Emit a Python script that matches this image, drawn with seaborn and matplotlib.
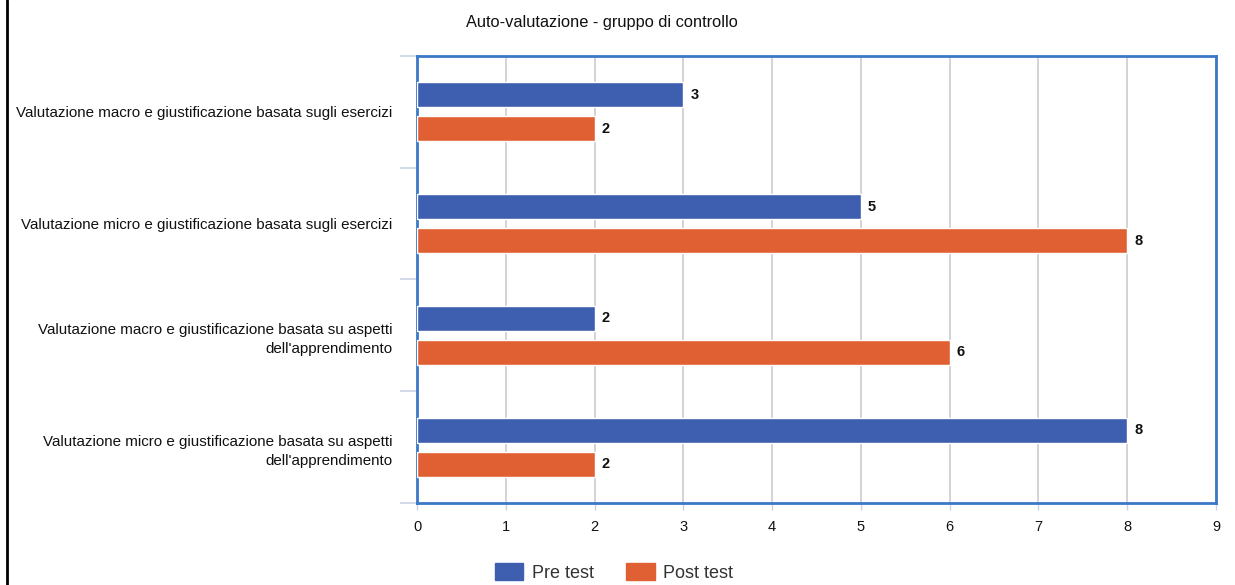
import matplotlib
matplotlib.use("Agg")
import matplotlib.pyplot as plt
from matplotlib.lines import Line2D
from matplotlib.patches import Patch
import seaborn as sns
import pandas as pd

categories = [
    "Valutazione macro e giustificazione basata sugli esercizi",
    "Valutazione micro e giustificazione basata sugli esercizi",
    "Valutazione macro e giustificazione basata su aspetti\ndell'apprendimento",
    "Valutazione micro e giustificazione basata su aspetti\ndell'apprendimento",
]
pre_test = [3, 5, 2, 8]
post_test = [2, 8, 6, 2]
series_names = ["Pre test", "Post test"]
colors = ["#3e5eb0", "#e06033"]
title = "Auto-valutazione - gruppo di controllo"

df = pd.DataFrame({
    "categoria": categories * 2,
    "valore": pre_test + post_test,
    "serie": [series_names[0]] * len(categories) + [series_names[1]] * len(categories),
})

sns.set_style("white")
plt.rcParams["font.family"] = ["Liberation Sans", "DejaVu Sans"]

fig = plt.figure(figsize=(12.35, 5.85), dpi=100)
ax = fig.add_axes([0.3377, 0.1402, 0.6469, 0.7641])

sns.barplot(data=df, y="categoria", x="valore", hue="serie", orient="h",
            palette=colors, width=0.61, gap=0.27, ax=ax, legend=False,
            saturation=1, zorder=3)

# value labels to the right of each bar
for cont in ax.containers:
    ax.bar_label(cont, padding=5, fontsize=10.5, fontweight="bold", color="#111111")

ax.set_xlim(0, 9)
ax.set_ylim(3.5, -0.5)
ax.set_xticks(range(0, 10))
ax.set_xlabel("")
ax.set_ylabel("")
ax.grid(axis="x", color="#cccccc", linewidth=1.2, zorder=0)
ax.set_axisbelow(True)

for sp in ax.spines.values():
    sp.set_visible(True)
    sp.set_color("#3b78c6")
    sp.set_linewidth(2)

ax.tick_params(axis="y", which="major", left=False, length=0, pad=18,
               labelsize=10.9, labelcolor="#111111")
ax.set_yticks([-0.5, 0.5, 1.5, 2.5, 3.5], minor=True)
ax.tick_params(axis="y", which="minor", left=True, length=12, width=1.2, color="#c9d3e6")
ax.tick_params(axis="x", which="major", length=5, width=1, color="#c9d3e6",
               pad=7, labelsize=10.5, labelcolor="#111111", bottom=True)
for lbl in ax.get_yticklabels():
    lbl.set_horizontalalignment("right")
    lbl.set_multialignment("right")
    lbl.set_linespacing(1.45)

fig.text(0.4875, 0.962, title, ha="center", va="center", fontsize=11.8, color="#111111")

handles = [Patch(facecolor=c, edgecolor=c) for c in colors]
fig.legend(handles, series_names, loc="center", bbox_to_anchor=(0.497, 0.022),
           ncol=2, frameon=False, fontsize=13, handlelength=1.6, handleheight=1.1,
           columnspacing=1.8, handletextpad=0.45, labelcolor="#333333")

# vertical rule at the left edge
fig.add_artist(Line2D([0.0057, 0.0057], [0, 1], transform=fig.transFigure,
                      color="black", linewidth=2))

fig.savefig("out.png", dpi=100, facecolor="white")
